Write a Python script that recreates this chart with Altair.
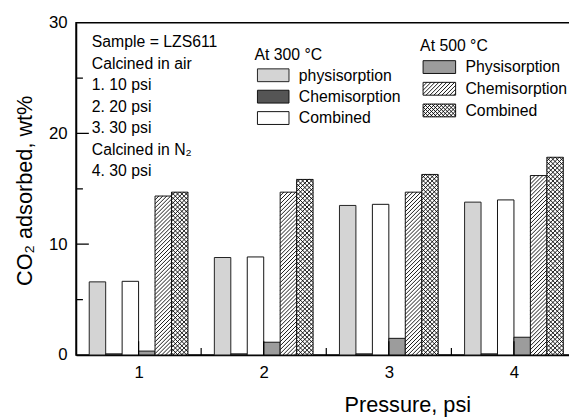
import altair as alt
import pandas as pd

# ---------------- data ----------------
pressure = [1, 2, 3, 4]
series = ["phys300", "chem300", "comb300", "phys500", "chem500", "comb500"]
phys_300 = [6.6, 8.8, 13.5, 13.8]
chem_300 = [0.1, 0.1, 0.1, 0.1]
comb_300 = [6.65, 8.85, 13.6, 14.0]
phys_500 = [0.35, 1.15, 1.5, 1.6]
chem_500 = [14.35, 14.7, 14.7, 16.2]
comb_500 = [14.7, 15.85, 16.3, 17.85]

x_ticks = [1, 2, 3, 4]
x_minor = [1.5, 2.5, 3.5]
y_ticks = [0, 10, 20, 30]
y_major_in = [10, 20]
y_minor = [5, 15, 25]

info_lines = ["Sample = LZS611", "Calcined in air", "1. 10 psi", "2. 20 psi",
              "3. 30 psi", "Calcined in N\u2082", "4. 30 psi"]
leg300_title = "At 300 \u00b0C"
leg300_labels = ["physisorption", "Chemisorption", "Combined"]
leg500_title = "At 500 \u00b0C"
leg500_labels = ["Physisorption", "Chemisorption", "Combined"]

values = [phys_300, chem_300, comb_300, phys_500, chem_500, comb_500]
rows = []
for i, (s, vals) in enumerate(zip(series, values)):
    for p, v in zip(pressure, vals):
        rows.append({"p": p, "s": s, "i": i, "v": v, "z": 0})
df = pd.DataFrame(rows)
dummy = pd.DataFrame({"k": [0]})

# ---------------- style / geometry ----------------
FONT = "Liberation Sans"
W, H = 500, 337
XMIN, XMAX = 0.5, 4.44
YMAX = 30
PXX = W / (XMAX - XMIN)   # pixels per x unit
PXY = H / YMAX            # pixels per y unit
BW = 0.1315               # bar width in x units

xs = alt.Scale(domain=[XMIN, XMAX], nice=False, zero=False, padding=0)
ys = alt.Scale(domain=[0, YMAX], nice=False, zero=True, padding=0)

x_axis = alt.Axis(values=x_ticks, format="d", title="Pressure, psi", ticks=False, tickSize=0,
                  labelPadding=10, grid=False, titleX=336, titleY=57, domain=True,
                  domainColor="black", domainWidth=1.5,
                  titleBaseline="alphabetic", titleAlign="center")
y_axis = alt.Axis(values=y_ticks, format="d", title="CO\u2082 adsorbed, wt%", ticks=False, tickSize=0,
                  labelPadding=9, grid=False, titleX=-45, titleY=170, titleAngle=-90, domain=True,
                  domainColor="black", domainWidth=1.5,
                  titleBaseline="alphabetic", titleAlign="center")

base = alt.Chart(df).transform_calculate(
    x0=f"datum.p + (datum.i - 3) * {BW}",
    x1=f"datum.p + (datum.i - 2) * {BW}",
)


def bars(name, fill, stroke="#111"):
    return base.transform_filter(alt.datum.s == name).mark_rect(
        fill=fill, stroke=stroke, strokeWidth=1
    ).encode(
        x=alt.X("x0:Q", scale=xs, axis=x_axis),
        x2="x1:Q",
        y=alt.Y("v:Q", scale=ys, axis=y_axis),
        y2="z:Q",
    )


def hatch(chart, direction, spacing, width=0.9):
    """Diagonal hatch lines inside boxes given by xl, ybase (data) and wpx, hpx (pixels)."""
    if direction == "/":
        c_expr = f"-datum.wpx + (datum.ks + 0.5) * {spacing}"
        keep = "datum.c < datum.hpx"
        xa = "max(0, -datum.c)"
        ya = "datum.xa + datum.c"
        xb = "min(datum.wpx, datum.hpx - datum.c)"
        yb = "datum.xb + datum.c"
    else:
        c_expr = f"(datum.ks + 0.5) * {spacing}"
        keep = "datum.c < datum.wpx + datum.hpx"
        xa = "max(0, datum.c - datum.hpx)"
        ya = "datum.c - datum.xa"
        xb = "min(datum.wpx, datum.c)"
        yb = "datum.c - datum.xb"
    return (
        chart.transform_calculate(ks="sequence(0, 70)")
        .transform_flatten(["ks"])
        .transform_calculate(c=c_expr)
        .transform_filter(keep)
        .transform_calculate(xa=xa)
        .transform_calculate(ya=ya)
        .transform_calculate(xb=xb)
        .transform_calculate(yb=yb)
        .transform_calculate(X0=f"datum.xl + datum.xa / {PXX}")
        .transform_calculate(X1=f"datum.xl + datum.xb / {PXX}")
        .transform_calculate(Y0=f"datum.ybase + datum.ya / {PXY}")
        .transform_calculate(Y1=f"datum.ybase + datum.yb / {PXY}")
        .mark_rule(color="black", strokeWidth=width)
        .encode(
            x=alt.X("X0:Q", scale=xs, axis=x_axis),
            x2="X1:Q",
            y=alt.Y("Y0:Q", scale=ys, axis=y_axis),
            y2="Y1:Q",
        )
    )


def bar_boxes(name):
    return base.transform_filter(alt.datum.s == name).transform_calculate(
        xl="datum.x0", ybase="0", wpx=f"{BW * PXX}", hpx=f"datum.v * {PXY}"
    )


# ---------------- frame (stroked rect, right side falls outside the page) ----------------
layers = [
    alt.Chart(dummy).mark_rect(filled=False, stroke="black", strokeWidth=1.5).encode(
        x=alt.value(0), x2=alt.value(W + 6), y=alt.value(0), y2=alt.value(H)
    ),
]

layers += [
    bars("phys300", "#d4d4d4", "#222"),
    bars("chem300", "#555555"),
    bars("comb300", "white"),
    bars("phys500", "#9c9c9c"),
    bars("chem500", "white"),
    hatch(bar_boxes("chem500"), "/", 4.0),
    bars("comb500", "white"),
    hatch(bar_boxes("comb500"), "/", 4.4),
    hatch(bar_boxes("comb500"), "\\", 4.4),
]


def text_line(txt, x, y, size=16):
    return alt.Chart(dummy).mark_text(
        align="left", baseline="alphabetic", fontSize=size, font=FONT, color="black",
    ).encode(x=alt.value(x), y=alt.value(y), text=alt.value(txt))


SW_H = 13


def swatch(x0, x1, yc, fill, stroke="#111"):
    return alt.Chart(dummy).mark_rect(fill=fill, stroke=stroke, strokeWidth=1).encode(
        x=alt.value(x0), x2=alt.value(x1), y=alt.value(yc - SW_H / 2), y2=alt.value(yc + SW_H / 2)
    )


def swatch_box(x0, x1, yc):
    return alt.Chart(pd.DataFrame({
        "xl": [XMIN + x0 / PXX],
        "ybase": [YMAX - (yc + SW_H / 2) / PXY],
        "wpx": [x1 - x0],
        "hpx": [SW_H],
    }))


for k, txt in enumerate(info_lines):
    layers.append(text_line(txt, 16, 25 + k * 21.8))

# legend for 300 C
layers += [text_line(leg300_title, 181, 38)]
for txt, yc in zip(leg300_labels, [53.3, 75.0, 96.7]):
    layers.append(text_line(txt, 226, yc + 5.5))
layers += [
    swatch(184, 216, 53.3, "#d4d4d4", "#222"),
    swatch(184, 216, 75.0, "#555555"),
    swatch(184, 216, 96.7, "white"),
]

# legend for 500 C
layers += [text_line(leg500_title, 349, 29)]
for txt, yc in zip(leg500_labels, [45.0, 67.0, 89.0]):
    layers.append(text_line(txt, 395, yc + 5.5))
layers += [
    swatch(352, 385, 45.0, "#9c9c9c"),
    swatch(352, 385, 67.0, "white"),
    hatch(swatch_box(352, 385, 67.0), "/", 4.0),
    swatch(352, 385, 89.0, "white"),
    hatch(swatch_box(352, 385, 89.0), "/", 4.0),
    hatch(swatch_box(352, 385, 89.0), "\\", 4.0),
]


# ---------------- inward ticks as stroked zero-width rects ----------------
def xtick_layer(vals, length):
    return alt.Chart(pd.DataFrame({"t": vals})).mark_rect(
        fill="black", stroke="black", strokeWidth=1.2
    ).encode(
        x=alt.X("t:Q", scale=xs, axis=x_axis), x2="t:Q",
        y=alt.value(H - length), y2=alt.value(H),
    )


def ytick_layer(vals, length):
    return alt.Chart(pd.DataFrame({"t": vals})).mark_rect(
        fill="black", stroke="black", strokeWidth=1.2
    ).encode(
        y=alt.Y("t:Q", scale=ys, axis=y_axis), y2="t:Q",
        x=alt.value(0), x2=alt.value(length),
    )


layers += [
    xtick_layer(x_ticks, 14),
    xtick_layer(x_minor, 7),
    ytick_layer(y_major_in, 13),
    ytick_layer(y_minor, 7),
]

chart = alt.layer(*layers).properties(
    width=W,
    height=H,
    padding={"left": 69, "top": 12, "right": 0, "bottom": 60},
    autosize=alt.AutoSizeParams(type="none"),
).configure_view(stroke=None).configure_axis(
    labelFont=FONT, titleFont=FONT, labelFontSize=17, titleFontSize=22,
    titleFontWeight="normal", labelColor="black", titleColor="black",
)

chart.save("out.html", embed_options={"renderer": "svg", "actions": False})
